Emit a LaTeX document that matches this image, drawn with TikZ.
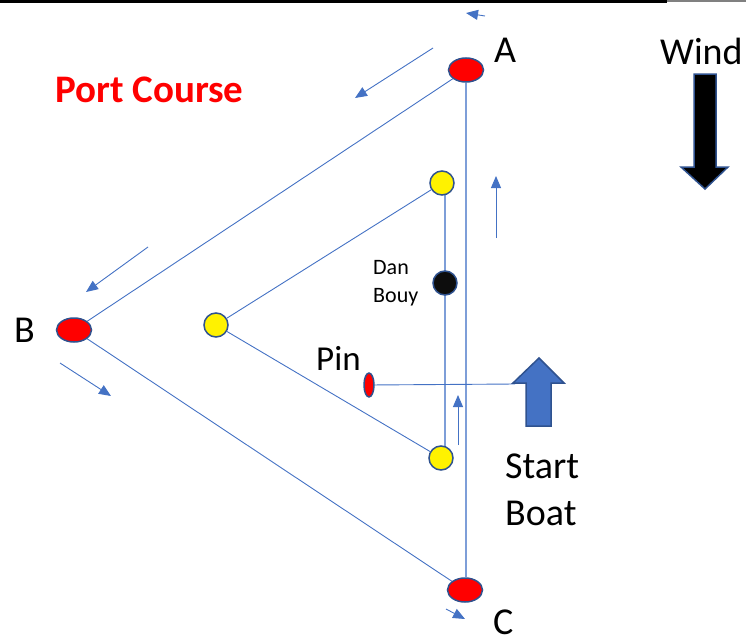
\documentclass[tikz,border=0pt]{standalone}
\usepackage{fontspec}
\setmainfont{Carlito}
\usetikzlibrary{arrows.meta,shapes.geometric,backgrounds}
\definecolor{lineblue}{HTML}{4472C4}
\definecolor{edgeblue}{HTML}{2F528F}
\definecolor{vblue}{HTML}{7E9ED8}
\begin{document}
\begin{tikzpicture}[x=1pt,y=-1pt,
  redmark/.style={ellipse, draw=edgeblue, line width=1.5pt, fill=red, minimum width=35pt, minimum height=24pt, inner sep=0pt},
  yellowmark/.style={circle, draw=edgeblue, line width=1.5pt, fill=yellow, minimum size=24pt, inner sep=0pt},
  danmark/.style={circle, draw=edgeblue, line width=1.5pt, fill=black!95, minimum size=24pt, inner sep=0pt},
  pinmark/.style={ellipse, draw=edgeblue, line width=1.5pt, fill=red, minimum width=10pt, minimum height=24pt, inner sep=0pt},
  course/.style={draw=lineblue, line width=0.9pt},
  vline/.style={draw=vblue, line width=1.4pt},
  flow/.style={draw=lineblue, line width=0.9pt, -{Triangle[length=12pt,width=10pt]}},
  lbl/.style={anchor=base west, inner sep=0pt, font=\fontsize{38}{44}\selectfont},
  smalllbl/.style={anchor=base west, inner sep=0pt, font=\fontsize{22}{26}\selectfont},
  bigarrow/.style={line width=1.5pt, draw=edgeblue}
]
\useasboundingbox (0,0) rectangle (746,642);
% top rule
\draw[black, line width=3.5pt] (0,1.75) -- (667,1.75);
\draw[gray, line width=1.2pt] (667,1) -- (746,1);

% marks
\node[redmark] (A) at (466,70) {};
\node[redmark] (B) at (74,330) {};
\node[redmark] (C) at (465,590) {};
\node[yellowmark] (Y1) at (442,183) {};
\node[yellowmark] (Y2) at (216,325) {};
\node[yellowmark] (Y3) at (441,458) {};
\node[danmark] (D) at (445,283) {};
\node[pinmark] (P) at (369,385) {};
\coordinate (sb) at (515,384);

\begin{pgfonlayer}{background}
\draw[course] (A) -- (B);
\draw[course] (B) -- (C);
\draw[vline] (A.south) -- (A.south |- C.north);
\draw[course] (Y1) -- (Y2);
\draw[course] (Y2) -- (Y3);
\draw[vline] (D |- Y1) -- (D |- Y3);
\draw[course] (P) -- (sb);
\end{pgfonlayer}

% wind arrow
\draw[bigarrow, fill=black] (694,74) -- (716,74) -- (716,167) -- (728,167) -- (705,189) -- (681,167) -- (694,167) -- cycle;
% start boat arrow
\draw[bigarrow, fill=lineblue] (526,426) -- (551,426) -- (551,383) -- (564,383) -- (539,358) -- (513,383) -- (526,383) -- cycle;

% flow arrows
\coordinate (f1s) at (485,16);  \coordinate (f1e) at (466,13);
\coordinate (f2s) at (433,48);  \coordinate (f2e) at (355,98);
\coordinate (f3s) at (148,247); \coordinate (f3e) at (86,292);
\coordinate (f4s) at (60,363);  \coordinate (f4e) at (111,396);
\coordinate (f5s) at (446,609); \coordinate (f5e) at (465,619);
\coordinate (f6s) at (458,445); \coordinate (f6e) at (458,395);
\coordinate (f7s) at (496,238); \coordinate (f7e) at (496,176);
\draw[flow] (f1s) -- (f1e);
\draw[flow] (f2s) -- (f2e);
\draw[flow] (f3s) -- (f3e);
\draw[flow] (f4s) -- (f4e);
\draw[flow] (f5s) -- (f5e);
\draw[flow] (f6s) -- (f6e);
\draw[flow] (f7s) -- (f7e);

% labels
\node[lbl] (tA) at (494,63) {A};
\node[lbl] (tB) at (14,342) {B};
\node[lbl] (tC) at (493,634) {C};
\node[lbl] (tWind) at (660,64) {Wind};
\node[lbl, font=\fontsize{35}{40}\selectfont] (tPin) at (316,370) {Pin};
\node[lbl] (tStart) at (505,478) {Start};
\node[lbl] (tBoat) at (505,525) {Boat};
\node[smalllbl] (tDan) at (373,274) {Dan};
\node[smalllbl] (tBouy) at (373,302) {Bouy};
\node[lbl, text=red, font=\bfseries\fontsize{39}{44}\selectfont] (title) at (55,102) {Port Course};
\end{tikzpicture}
\end{document}
